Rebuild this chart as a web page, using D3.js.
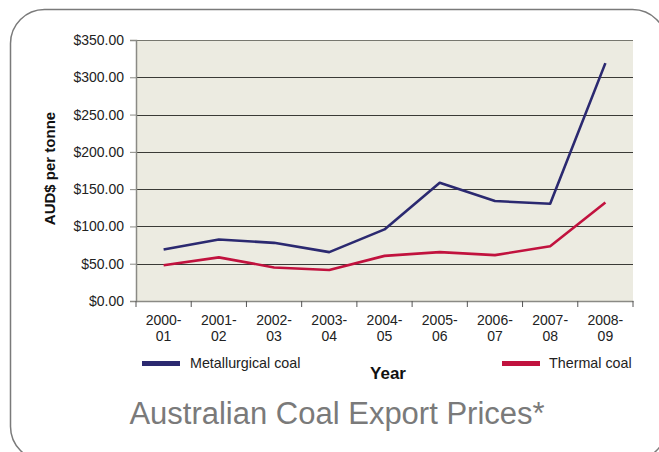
<!DOCTYPE html>
<html><head><meta charset="utf-8">
<script src="https://cdn.jsdelivr.net/npm/d3@7"></script>
<style>body{margin:0;background:#fff;}svg{display:block;font-family:"Liberation Sans",Arial,sans-serif;}</style>
</head><body>
<svg id="c" width="659" height="452"></svg>
<script>
const categories = ["2000-01","2001-02","2002-03","2003-04","2004-05","2005-06","2006-07","2007-08","2008-09"];
const metallurgical = [69, 82.5, 78, 65.5, 96, 158.5, 134, 130.5, 319];
const thermal = [48, 58.5, 45, 41.5, 60.5, 65.5, 61.5, 73.5, 132];
const yTicks = [0, 50, 100, 150, 200, 250, 300, 350];
const seriesNames = ["Metallurgical coal", "Thermal coal"];
const colors = ["#2B2970", "#C1123E"];

const svg = d3.select("#c");
// outer rounded frame
svg.append("rect").attr("x", 10.5).attr("y", 9.5).attr("width", 656).attr("height", 451)
  .attr("rx", 34).attr("fill", "#fff").attr("stroke", "#7a7a7a").attr("stroke-width", 1.5);

const L = 136, R = 633, T = 40, B = 301;
const x = d3.scaleBand().domain(categories).range([L, R]).paddingInner(0).paddingOuter(0);
const y = d3.scaleLinear().domain([0, 350]).range([B, T]);

svg.append("rect").attr("x", L).attr("y", T).attr("width", R - L).attr("height", B - T).attr("fill", "#ECEBE1");

// gridlines
svg.append("g").selectAll("line").data(yTicks.filter(d => d > 0)).join("line")
  .attr("x1", L).attr("x2", R).attr("y1", d => Math.round(y(d)) + 0.5).attr("y2", d => Math.round(y(d)) + 0.5)
  .attr("stroke", d => d === 350 ? "#77776f" : "#3a3a36").attr("stroke-width", 1);

// y axis
const yAxis = svg.append("g").attr("transform", `translate(${L},0)`)
  .call(d3.axisLeft(y).tickValues(yTicks).tickSize(6).tickPadding(6).tickFormat(d => "$" + d3.format(".2f")(d)));
yAxis.select(".domain").attr("stroke", "#8a8a85").attr("stroke-width", 1.5);
yAxis.selectAll(".tick line").attr("stroke", "#8a8a85");
yAxis.selectAll("text").attr("font-size", 14).attr("fill", "#222").attr("font-family", "Liberation Sans, Arial, sans-serif");

// x axis
const xAxis = svg.append("g").attr("transform", `translate(0,${B})`)
  .call(d3.axisBottom(x).tickValues([]).tickSizeOuter(0));
xAxis.select(".domain").attr("stroke", "#8a8a85").attr("stroke-width", 1.5);
const tickPos = categories.map(c => x(c)).concat([R]);
xAxis.selectAll(".tk").data(tickPos).join("line").attr("class", "tk")
  .attr("x1", d => d).attr("x2", d => d).attr("y1", 0).attr("y2", 6).attr("stroke", "#555").attr("stroke-width", 1);
const lbl = svg.append("g").selectAll("text").data(categories).join("text")
  .attr("x", d => x(d) + x.bandwidth() / 2).attr("text-anchor", "middle")
  .attr("font-size", 14).attr("fill", "#222");
lbl.append("tspan").attr("x", d => x(d) + x.bandwidth() / 2).attr("y", 325).text(d => d.split("-")[0] + "-");
lbl.append("tspan").attr("x", d => x(d) + x.bandwidth() / 2).attr("y", 341).text(d => d.split("-")[1]);

// lines
const line = d3.line().x((d, i) => x(categories[i]) + x.bandwidth() / 2).y(d => y(d));
[metallurgical, thermal].forEach((s, k) => {
  svg.append("path").datum(s).attr("d", line).attr("fill", "none")
    .attr("stroke", colors[k]).attr("stroke-width", 2.6).attr("stroke-linejoin", "round");
});

// axis titles
svg.append("text").attr("transform", "translate(55,168.5) rotate(-90)").attr("text-anchor", "middle")
  .attr("font-size", 15).attr("font-weight", "bold").attr("fill", "#111").text("AUD$ per tonne");
svg.append("text").attr("x", 388).attr("y", 378.5).attr("text-anchor", "middle")
  .attr("font-size", 17).attr("font-weight", "bold").attr("fill", "#111").text("Year");

// legend
const legendPos = [[142, 190], [502, 549]];
seriesNames.forEach((n, k) => {
  svg.append("line").attr("x1", legendPos[k][0]).attr("x2", legendPos[k][0] + 38).attr("y1", 363.5).attr("y2", 363.5)
    .attr("stroke", colors[k]).attr("stroke-width", 5);
  svg.append("text").attr("x", legendPos[k][1]).attr("y", 367.5).attr("font-size", 14.3).attr("fill", "#222").text(n);
});

// title
svg.append("text").attr("x", 337).attr("y", 424).attr("text-anchor", "middle")
  .attr("font-size", 31).attr("fill", "#7a7a7a").text("Australian Coal Export Prices*");
</script>
</body></html>
